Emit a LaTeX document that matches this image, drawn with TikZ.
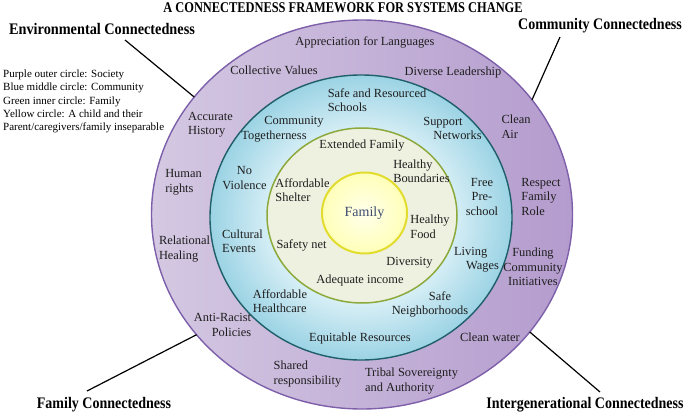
\documentclass[tikz,border=0pt]{standalone}
\usepackage{fontspec}
\setmainfont{Liberation Serif}
\usetikzlibrary{shapes.geometric}
\definecolor{purpL}{RGB}{212,200,226}
\definecolor{purpR}{RGB}{180,156,206}
\definecolor{purpB}{RGB}{125,95,170}
\definecolor{blueW}{RGB}{236,248,251}
\definecolor{blueA}{RGB}{216,239,246}
\definecolor{blueB}{RGB}{155,211,228}
\definecolor{blueE}{RGB}{30,95,105}
\definecolor{greenF}{RGB}{238,241,224}
\definecolor{greenE}{RGB}{140,170,60}
\definecolor{yelI}{RGB}{255,255,235}
\definecolor{yelO}{RGB}{255,255,185}
\definecolor{yelE}{RGB}{225,220,45}
\definecolor{txt}{RGB}{30,30,30}
\definecolor{famtxt}{RGB}{62,75,110}
\pgfdeclareradialshading{bluering}{\pgfpoint{0bp}{0bp}}{color(0bp)=(blueW); color(15bp)=(blueA); color(25bp)=(blueB); color(50bp)=(blueB)}
\pgfdeclareradialshading{yelcore}{\pgfpoint{0bp}{0bp}}{color(0bp)=(yelI); color(25bp)=(yelO); color(50bp)=(yelO)}
\tikzset{
  ring/.style={ellipse, inner sep=0pt, outer sep=0pt},
  lbl/.style={font=\fontsize{12.4}{14.5}\selectfont, text=txt, inner sep=0pt},
  lbll/.style={lbl, align=left},
  lblc/.style={lbl, align=center},
  lblr/.style={lbl, align=right},
  corner/.style={font=\fontsize{14}{16}\selectfont\bfseries, inner sep=0pt},
  legendtxt/.style={font=\fontsize{11}{13.3}\selectfont, align=left, inner sep=0pt, anchor=west},
  conn/.style={line width=1.2pt, black},
}
\begin{document}
\begin{tikzpicture}[x=1pt,y=-1pt]
\useasboundingbox (0,0) rectangle (685,415);
% rings
\node[ring, minimum width=421pt, minimum height=389pt, left color=purpL, right color=purpR, draw=purpB, line width=1.4pt] (outer) at (362,214.5) {};
\node[ring, minimum width=302pt, minimum height=285pt, shade, shading=bluering, draw=blueE, line width=1.4pt] (mid) at (361,217.5) {};
\node[ring, minimum width=190pt, minimum height=175pt, fill=greenF, draw=greenE, line width=1.5pt] (inner) at (362,215.5) {};
\node[ring, minimum width=85pt, minimum height=81pt, shade, shading=yelcore, draw=yelE, line width=2pt, font=\fontsize{14}{16}\selectfont, text=famtxt] (core) at (364.5,213) {Family};
% title
\node[font=\fontsize{12.4}{14}\selectfont\bfseries, inner sep=0pt] (title) at (343,8) {\scalebox{1}[1.2]{A CONNECTEDNESS FRAMEWORK FOR SYSTEMS CHANGE}};
% legend
\node[legendtxt] (legend) at (3,101.6) {Purple outer circle: Society\\Blue middle circle: Community\\Green inner circle: Family\\Yellow circle: A child and their\\Parent/caregivers/family inseparable};
% corner labels
\node[corner] (env) at (102,29) {\scalebox{1.02}[1.15]{Environmental Connectedness}};
\node[corner] (comm) at (600,26) {\scalebox{1}[1.15]{Community Connectedness}};
\node[corner] (famc) at (104,405) {\scalebox{1}[1.15]{Family Connectedness}};
\node[corner] (interg) at (585,405) {\scalebox{1}[1.15]{Intergenerational Connectedness}};
\coordinate (envs) at (125,40);
\coordinate (comms) at (560,37);
\coordinate (fams) at (87,391);
\coordinate (ints) at (600,392);
\draw[conn] (envs) -- (outer.145);
\draw[conn] (comms) -- (outer.34);
\draw[conn] (fams) -- (outer.216);
\draw[conn] (ints) -- (outer.325);
% outer ring texts
\node[lbl] (app) at (365,42) {Appreciation for Languages};
\node[lbl] (colv) at (274,70) {Collective Values};
\node[lbl] (divl) at (453,73) {Diverse Leadership};
\node[lbll] (acch) at (210.5,124.5) {Accurate\\History};
\node[lbll] (clair) at (516,126.5) {Clean\\Air};
\node[lbll] (humr) at (183.5,182.5) {Human\\rights};
\node[lbll] (relh) at (184.5,249) {Relational\\Healing};
\node[lbll] (resp) at (541,196.5) {Respect\\Family\\Role};
\node[lblc] (fund) at (533,267) {Funding\\Community\\Initiatives};
\node[lblr] (anti) at (222.5,325) {Anti-Racist\\Policies};
\node[lbl] (cleanw) at (490,337) {Clean water};
\node[lbll] (shared) at (307.5,374) {Shared\\responsibility};
\node[lbll] (tribal) at (411.5,381) {Tribal Sovereignty\\and Authority};
% middle ring texts
\node[lbll] (schools) at (377,100) {Safe and Resourced\\Schools};
\node[lbll] (commt) at (282.5,129) {\hspace*{23pt}Community\\Togetherness};
\node[lbll] (support) at (452.5,128.5) {Support\\\hspace*{10pt}Networks};
\node[lblc] (noviol) at (244.5,178) {No\\Violence};
\node[lbll] (cultural) at (242.5,241.5) {Cultural\\Events};
\node[lblc] (freepre) at (482,196.5) {Free\\Pre-\\school};
\node[lbll] (living) at (476.5,259.5) {Living\\\hspace*{12pt}Wages};
\node[lbll] (affh) at (280,301) {Affordable\\Healthcare};
\node[lblc] (safen) at (430,304.5) {\hspace*{20pt}Safe\\Neighborhoods};
\node[lbl] (equit) at (360,339) {Equitable Resources};
% inner ring texts
\node[lbl] (extf) at (362,146) {Extended Family};
\node[lbll] (hbound) at (421.5,171.5) {Healthy\\Boundaries};
\node[lbll] (affs) at (302.5,190) {Affordable\\Shelter};
\node[lbll] (hfood) at (430,227) {Healthy\\Food};
\node[lbl] (safety) at (301.5,245) {Safety net};
\node[lbl] (divers) at (409.5,263) {Diversity};
\node[lbl] (adeq) at (360,281) {Adequate income};
\end{tikzpicture}
\end{document}
